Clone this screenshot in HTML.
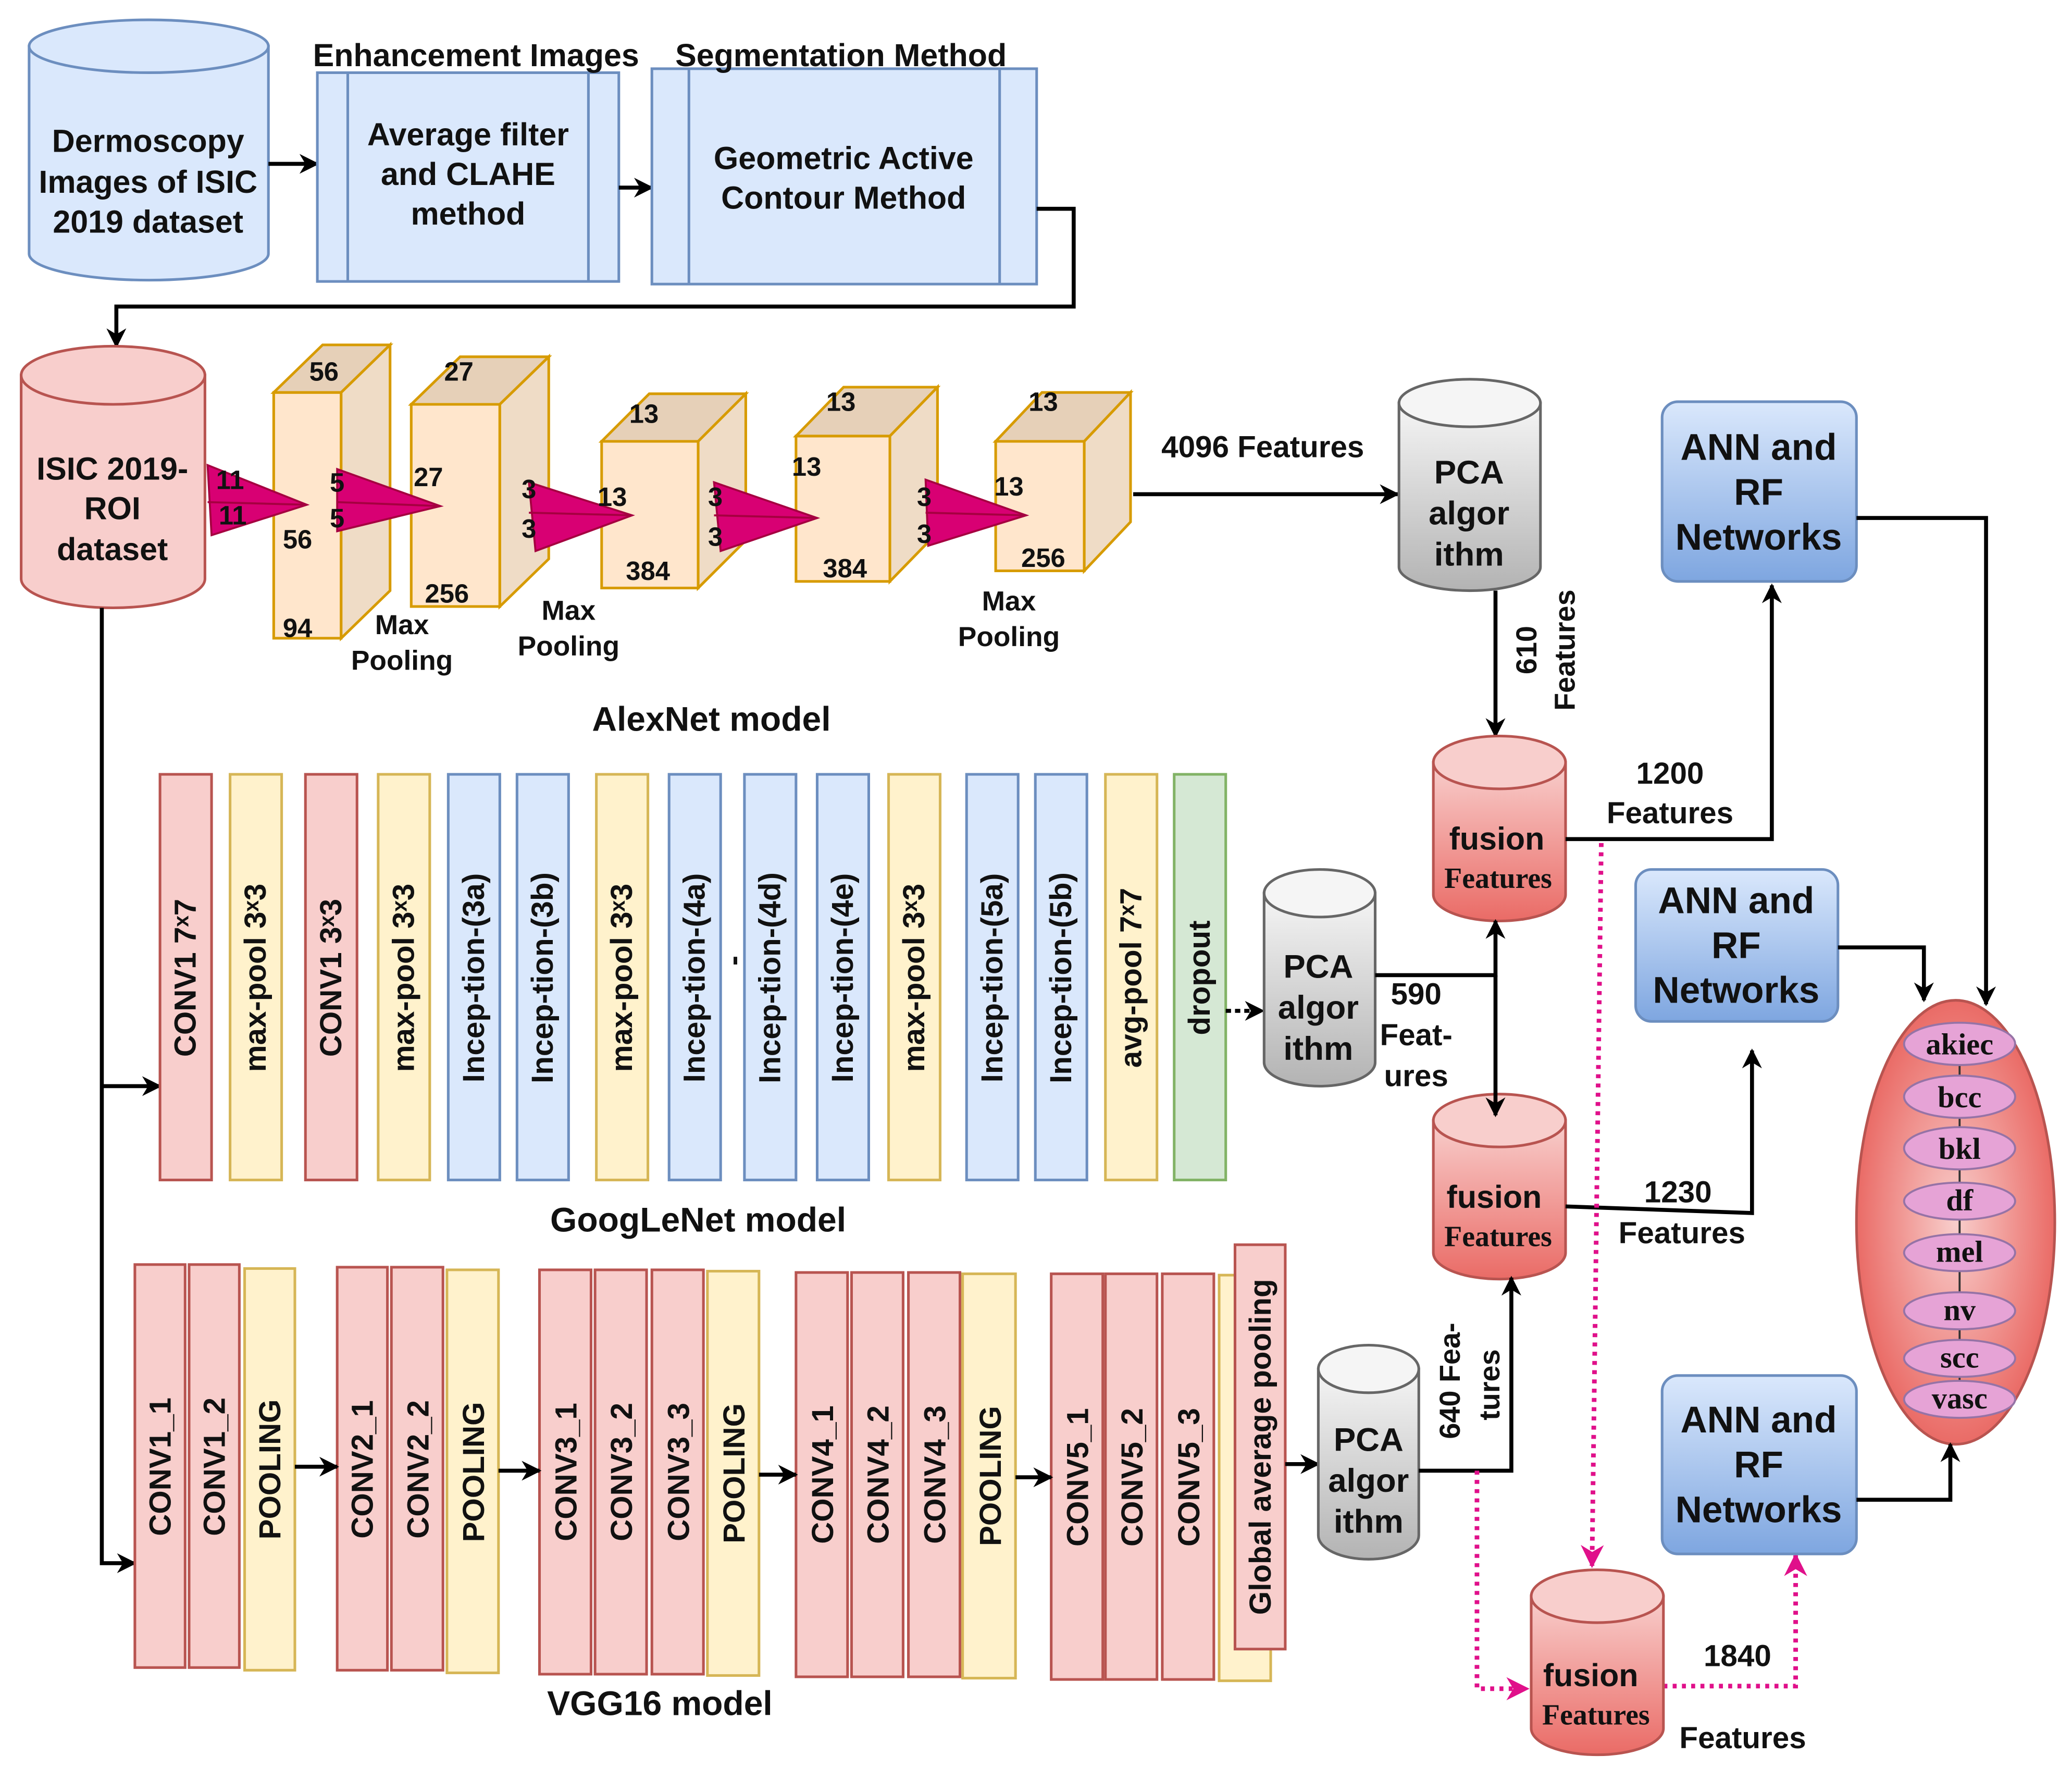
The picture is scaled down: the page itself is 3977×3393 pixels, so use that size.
<!DOCTYPE html>
<html><head><meta charset="utf-8"><style>
html,body{margin:0;padding:0;background:#fff;}
svg{display:block;}
text{font-family:"Liberation Sans",sans-serif;font-weight:bold;fill:#111;}
.s{font-family:"Liberation Serif",serif;}
</style></head><body>
<svg width="3977" height="3393" viewBox="0 0 1567 1338" preserveAspectRatio="none" xmlns="http://www.w3.org/2000/svg">
<defs>
<marker id="a" viewBox="0 0 10 10" refX="9" refY="5" markerWidth="5" markerHeight="5" orient="auto"><path d="M0,0 L10,5 L0,10 L3,5 Z" fill="#000"/></marker>
<marker id="m" viewBox="0 0 10 10" refX="9" refY="5" markerWidth="5" markerHeight="5" orient="auto"><path d="M0,0 L10,5 L0,10 L3,5 Z" fill="#e0108a"/></marker>
<linearGradient id="gg" x1="0" y1="0" x2="0" y2="1"><stop offset="0" stop-color="#f5f5f5"/><stop offset="1" stop-color="#b3b3b3"/></linearGradient>
<linearGradient id="gr" x1="0" y1="0" x2="0" y2="1"><stop offset="0" stop-color="#f8cecc"/><stop offset="1" stop-color="#ea6b66"/></linearGradient>
<linearGradient id="gb" x1="0" y1="0" x2="0" y2="1"><stop offset="0" stop-color="#dae8fc"/><stop offset="1" stop-color="#7ea6e0"/></linearGradient>
<radialGradient id="ge" cx="0.5" cy="0.5" r="0.5"><stop offset="0" stop-color="#f8cecc"/><stop offset="1" stop-color="#ea6b66"/></radialGradient>
</defs>

<!-- Top row -->
<path d="M22,35 L22,192 A90.5,20 0 0 0 203,192 L203,35 Z" fill="#dae8fc" stroke="#6c8ebf" stroke-width="2"/>
<ellipse cx="112.5" cy="35" rx="90.5" ry="20" fill="#dae8fc" stroke="#6c8ebf" stroke-width="2"/>
<text x="112" y="115" font-size="24" text-anchor="middle">Dermoscopy</text>
<text x="112" y="146" font-size="24" text-anchor="middle">Images of ISIC</text>
<text x="112" y="176" font-size="24" text-anchor="middle">2019 dataset</text>
<line x1="203" y1="124" x2="240" y2="124" stroke="#000" stroke-width="3" marker-end="url(#a)"/>

<rect x="240" y="55" width="228" height="158" fill="#dae8fc" stroke="#6c8ebf" stroke-width="2"/>
<line x1="263" y1="55" x2="263" y2="213" stroke="#6c8ebf" stroke-width="2"/>
<line x1="445" y1="55" x2="445" y2="213" stroke="#6c8ebf" stroke-width="2"/>
<text x="354" y="110" font-size="24" text-anchor="middle">Average filter</text>
<text x="354" y="140" font-size="24" text-anchor="middle">and CLAHE</text>
<text x="354" y="170" font-size="24" text-anchor="middle">method</text>
<text x="360" y="50" font-size="24" text-anchor="middle">Enhancement Images</text>
<line x1="468" y1="142" x2="493" y2="142" stroke="#000" stroke-width="3" marker-end="url(#a)"/>

<rect x="493" y="52" width="291" height="163" fill="#dae8fc" stroke="#6c8ebf" stroke-width="2"/>
<line x1="521" y1="52" x2="521" y2="215" stroke="#6c8ebf" stroke-width="2"/>
<line x1="756" y1="52" x2="756" y2="215" stroke="#6c8ebf" stroke-width="2"/>
<text x="638" y="128" font-size="24" text-anchor="middle">Geometric Active</text>
<text x="638" y="158" font-size="24" text-anchor="middle">Contour Method</text>
<text x="636" y="50" font-size="24" text-anchor="middle">Segmentation Method</text>
<polyline points="784,158 812,158 812,232 88,232 88,262" fill="none" stroke="#000" stroke-width="3" marker-end="url(#a)"/>

<!-- ISIC ROI -->
<path d="M16,284 L16,438 A69.5,22 0 0 0 155,438 L155,284 Z" fill="#f8cecc" stroke="#b85450" stroke-width="2"/>
<ellipse cx="85.5" cy="284" rx="69.5" ry="22" fill="#f8cecc" stroke="#b85450" stroke-width="2"/>
<text x="85" y="363" font-size="24" text-anchor="middle">ISIC 2019-</text>
<text x="85" y="393" font-size="24" text-anchor="middle">ROI</text>
<text x="85" y="424" font-size="24" text-anchor="middle">dataset</text>

<polyline points="77,460 77,1183 102,1183" fill="none" stroke="#000" stroke-width="3" marker-end="url(#a)"/>
<line x1="77" y1="822" x2="121" y2="822" stroke="#000" stroke-width="3" marker-end="url(#a)"/>

<!-- AlexNet cubes -->
<g stroke="#d79b00" stroke-width="2">
<rect x="207" y="297" width="51" height="186" fill="#ffe6cc"/>
<polygon points="207,297 244,261 295,261 258,297" fill="#e6d0b8"/>
<polygon points="258,297 295,261 295,447 258,483" fill="#efdcc6"/>
<rect x="311" y="306" width="67" height="153" fill="#ffe6cc"/>
<polygon points="311,306 348,270 415,270 378,306" fill="#e6d0b8"/>
<polygon points="378,306 415,270 415,423 378,459" fill="#efdcc6"/>
<rect x="455" y="334" width="73" height="111" fill="#ffe6cc"/>
<polygon points="455,334 491,298 564,298 528,334" fill="#e6d0b8"/>
<polygon points="528,334 564,298 564,409 528,445" fill="#efdcc6"/>
<rect x="602" y="330" width="71" height="110" fill="#ffe6cc"/>
<polygon points="602,330 638,293 709,293 673,330" fill="#e6d0b8"/>
<polygon points="673,330 709,293 709,403 673,440" fill="#efdcc6"/>
<rect x="753" y="334" width="67" height="98" fill="#ffe6cc"/>
<polygon points="753,334 788,297 855,297 820,334" fill="#e6d0b8"/>
<polygon points="820,334 855,297 855,395 820,432" fill="#efdcc6"/>
</g>
<g fill="#d80073" stroke="#a50040" stroke-width="1.5">
<polygon points="157,352 232,382 160,405"/><line x1="157" y1="380" x2="232" y2="382"/>
<polygon points="255,355 333,383 255,402"/><line x1="255" y1="380" x2="333" y2="383"/>
<polygon points="400,365 478,390 405,417"/><line x1="400" y1="388" x2="478" y2="390"/>
<polygon points="540,365 618,392 545,417"/><line x1="540" y1="390" x2="618" y2="392"/>
<polygon points="700,363 776,390 702,413"/><line x1="700" y1="388" x2="776" y2="390"/>
</g>
<g font-size="20" text-anchor="middle">
<text x="174" y="370">11</text><text x="176" y="397">11</text>
<text x="245" y="288">56</text><text x="255" y="372">5</text><text x="255" y="399">5</text>
<text x="225" y="415">56</text><text x="225" y="482">94</text>
<text x="347" y="288">27</text><text x="324" y="368">27</text><text x="338" y="456">256</text>
<text x="400" y="377">3</text><text x="400" y="407">3</text>
<text x="487" y="320">13</text><text x="463" y="383">13</text><text x="490" y="439">384</text>
<text x="541" y="383">3</text><text x="541" y="413">3</text>
<text x="636" y="311">13</text><text x="610" y="360">13</text><text x="639" y="437">384</text>
<text x="699" y="383">3</text><text x="699" y="411">3</text>
<text x="789" y="311">13</text><text x="763" y="375">13</text><text x="789" y="429">256</text>
</g>
<g font-size="21" text-anchor="middle">
<text x="304" y="480">Max</text><text x="304" y="507">Pooling</text>
<text x="430" y="469">Max</text><text x="430" y="496">Pooling</text>
<text x="763" y="462">Max</text><text x="763" y="489">Pooling</text>
</g>
<text x="538" y="553" font-size="26" text-anchor="middle">AlexNet model</text>

<line x1="857" y1="374" x2="1057" y2="374" stroke="#000" stroke-width="3" marker-end="url(#a)"/>
<text x="955" y="346" font-size="23" text-anchor="middle">4096 Features</text>

<path d="M1058,305 L1058,429 A53.5,18 0 0 0 1165,429 L1165,305 Z" fill="url(#gg)" stroke="#666" stroke-width="2"/>
<ellipse cx="1111.5" cy="305" rx="53.5" ry="18" fill="#f5f5f5" stroke="#666" stroke-width="2"/>
<text x="1111" y="366" font-size="25" text-anchor="middle">PCA</text>
<text x="1111" y="397" font-size="25" text-anchor="middle">algor</text>
<text x="1111" y="428" font-size="25" text-anchor="middle">ithm</text>
<line x1="1131" y1="447" x2="1131" y2="557" stroke="#000" stroke-width="3" marker-end="url(#a)"/>
<text transform="translate(1162,492) rotate(-90)" font-size="22" text-anchor="middle">610</text>
<text transform="translate(1191,492) rotate(-90)" font-size="22" text-anchor="middle">Features</text>

<path d="M1084,577 L1084,677 A50,20 0 0 0 1184,677 L1184,577 Z" fill="url(#gr)" stroke="#b85450" stroke-width="2"/>
<ellipse cx="1134" cy="577" rx="50" ry="20" fill="#f8cecc" stroke="#b85450" stroke-width="2"/>
<text x="1132" y="643" font-size="24" text-anchor="middle">fusion</text>
<text x="1133" y="672" font-size="22" text-anchor="middle" class="s">Features</text>

<rect x="1257" y="304" width="147" height="136" rx="12" fill="url(#gb)" stroke="#6c8ebf" stroke-width="2"/>
<text x="1330" y="348" font-size="28" text-anchor="middle">ANN and</text>
<text x="1330" y="382" font-size="28" text-anchor="middle">RF</text>
<text x="1330" y="416" font-size="28" text-anchor="middle">Networks</text>
<polyline points="1184,635 1340,635 1340,443" fill="none" stroke="#000" stroke-width="3" marker-end="url(#a)"/>
<text x="1263" y="593" font-size="23" text-anchor="middle">1200</text>
<text x="1263" y="623" font-size="23" text-anchor="middle">Features</text>
<polyline points="1404,392 1502,392 1502,760" fill="none" stroke="#000" stroke-width="3" marker-end="url(#a)"/>

<!-- GoogLeNet bars -->
<g stroke-width="2">
<rect x="121" y="586" width="39" height="307" fill="#f8cecc" stroke="#b85450"/>
<rect x="174" y="586" width="39" height="307" fill="#fff2cc" stroke="#d6b656"/>
<rect x="231" y="586" width="39" height="307" fill="#f8cecc" stroke="#b85450"/>
<rect x="286" y="586" width="39" height="307" fill="#fff2cc" stroke="#d6b656"/>
<rect x="339" y="586" width="39" height="307" fill="#dae8fc" stroke="#6c8ebf"/>
<rect x="391" y="586" width="39" height="307" fill="#dae8fc" stroke="#6c8ebf"/>
<rect x="451" y="586" width="39" height="307" fill="#fff2cc" stroke="#d6b656"/>
<rect x="506" y="586" width="39" height="307" fill="#dae8fc" stroke="#6c8ebf"/>
<rect x="563" y="586" width="39" height="307" fill="#dae8fc" stroke="#6c8ebf"/>
<rect x="618" y="586" width="39" height="307" fill="#dae8fc" stroke="#6c8ebf"/>
<rect x="672" y="586" width="39" height="307" fill="#fff2cc" stroke="#d6b656"/>
<rect x="731" y="586" width="39" height="307" fill="#dae8fc" stroke="#6c8ebf"/>
<rect x="783" y="586" width="39" height="307" fill="#dae8fc" stroke="#6c8ebf"/>
<rect x="836" y="586" width="39" height="307" fill="#fff2cc" stroke="#d6b656"/>
<rect x="888" y="586" width="39" height="307" fill="#d5e8d4" stroke="#82b366"/>
</g>
<g font-size="23">
<text transform="translate(148,740) rotate(-90)" text-anchor="middle">CONV1 7ˣ7</text>
<text transform="translate(201,740) rotate(-90)" text-anchor="middle">max-pool 3ˣ3</text>
<text transform="translate(258,740) rotate(-90)" text-anchor="middle">CONV1 3ˣ3</text>
<text transform="translate(313,740) rotate(-90)" text-anchor="middle">max-pool 3ˣ3</text>
<text transform="translate(366,740) rotate(-90)" text-anchor="middle">Incep-tion-(3a)</text>
<text transform="translate(418,740) rotate(-90)" text-anchor="middle">Incep-tion-(3b)</text>
<text transform="translate(478,740) rotate(-90)" text-anchor="middle">max-pool 3ˣ3</text>
<text transform="translate(533,740) rotate(-90)" text-anchor="middle">Incep-tion-(4a)</text>
<text transform="translate(562,727) rotate(-90)" text-anchor="middle">-</text>
<text transform="translate(590,740) rotate(-90)" text-anchor="middle">Incep-tion-(4d)</text>
<text transform="translate(645,740) rotate(-90)" text-anchor="middle">Incep-tion-(4e)</text>
<text transform="translate(699,740) rotate(-90)" text-anchor="middle">max-pool 3ˣ3</text>
<text transform="translate(758,740) rotate(-90)" text-anchor="middle">Incep-tion-(5a)</text>
<text transform="translate(810,740) rotate(-90)" text-anchor="middle">Incep-tion-(5b)</text>
<text transform="translate(863,740) rotate(-90)" text-anchor="middle">avg-pool 7ˣ7</text>
<text transform="translate(915,740) rotate(-90)" text-anchor="middle">dropout</text>
</g>
<text x="528" y="932" font-size="26" text-anchor="middle">GoogLeNet model</text>
<line x1="927" y1="765" x2="955" y2="765" stroke="#000" stroke-width="3" stroke-dasharray="4,3" marker-end="url(#a)"/>

<path d="M956,676 L956,804 A42,18 0 0 0 1040,804 L1040,676 Z" fill="url(#gg)" stroke="#666" stroke-width="2"/>
<ellipse cx="998" cy="676" rx="42" ry="18" fill="#f5f5f5" stroke="#666" stroke-width="2"/>
<text x="997" y="740" font-size="25" text-anchor="middle">PCA</text>
<text x="997" y="771" font-size="25" text-anchor="middle">algor</text>
<text x="997" y="802" font-size="25" text-anchor="middle">ithm</text>
<text x="1071" y="760" font-size="23" text-anchor="middle">590</text>
<text x="1071" y="791" font-size="23" text-anchor="middle">Feat-</text>
<text x="1071" y="822" font-size="23" text-anchor="middle">ures</text>

<path d="M1084,848 L1084,948 A50,20 0 0 0 1184,948 L1184,848 Z" fill="url(#gr)" stroke="#b85450" stroke-width="2"/>
<ellipse cx="1134" cy="848" rx="50" ry="20" fill="#f8cecc" stroke="#b85450" stroke-width="2"/>
<text x="1130" y="914" font-size="24" text-anchor="middle">fusion</text>
<text x="1133" y="943" font-size="22" text-anchor="middle" class="s">Features</text>
<polyline points="1040,738 1131,738 1131,697" fill="none" stroke="#000" stroke-width="3" marker-end="url(#a)"/>
<line x1="1131" y1="738" x2="1131" y2="844" stroke="#000" stroke-width="3" marker-end="url(#a)"/>

<rect x="1237" y="658" width="153" height="115" rx="12" fill="url(#gb)" stroke="#6c8ebf" stroke-width="2"/>
<text x="1313" y="691" font-size="28" text-anchor="middle">ANN and</text>
<text x="1313" y="725" font-size="28" text-anchor="middle">RF</text>
<text x="1313" y="759" font-size="28" text-anchor="middle">Networks</text>
<polyline points="1390,717 1455,717 1455,757" fill="none" stroke="#000" stroke-width="3" marker-end="url(#a)"/>
<polyline points="1184,913 1325,918 1325,795" fill="none" stroke="#000" stroke-width="3" marker-end="url(#a)"/>
<text x="1269" y="910" font-size="23" text-anchor="middle">1230</text>
<text x="1272" y="941" font-size="23" text-anchor="middle">Features</text>

<ellipse cx="1479" cy="925" rx="75" ry="168" fill="url(#ge)" stroke="#b85450" stroke-width="2"/>
<line x1="1482" y1="790" x2="1482" y2="1059" stroke="#333" stroke-width="1.5"/>
<g fill="#e6a3d6" stroke="#9673a6" stroke-width="1.5">
<ellipse cx="1482" cy="790" rx="42" ry="16"/>
<ellipse cx="1482" cy="830" rx="42" ry="16"/>
<ellipse cx="1482" cy="869" rx="42" ry="16"/>
<ellipse cx="1482" cy="909" rx="42" ry="14"/>
<ellipse cx="1482" cy="948" rx="42" ry="14"/>
<ellipse cx="1482" cy="992" rx="42" ry="14"/>
<ellipse cx="1482" cy="1028" rx="42" ry="14"/>
<ellipse cx="1482" cy="1059" rx="42" ry="14"/>
</g>
<g font-size="23" text-anchor="middle">
<text x="1482" y="798" class="s">akiec</text>
<text x="1482" y="838" class="s">bcc</text>
<text x="1482" y="877" class="s">bkl</text>
<text x="1482" y="916" class="s">df</text>
<text x="1482" y="955" class="s">mel</text>
<text x="1482" y="999" class="s">nv</text>
<text x="1482" y="1035" class="s">scc</text>
<text x="1482" y="1066" class="s">vasc</text>
</g>

<!-- VGG16 bars -->
<g stroke-width="2">
<rect x="102" y="957" width="38" height="305" fill="#f8cecc" stroke="#b85450"/>
<rect x="143" y="957" width="38" height="305" fill="#f8cecc" stroke="#b85450"/>
<rect x="185" y="960" width="38" height="304" fill="#fff2cc" stroke="#d6b656"/>
<rect x="255" y="959" width="38" height="305" fill="#f8cecc" stroke="#b85450"/>
<rect x="296" y="959" width="39" height="305" fill="#f8cecc" stroke="#b85450"/>
<rect x="338" y="961" width="39" height="305" fill="#fff2cc" stroke="#d6b656"/>
<rect x="408" y="961" width="39" height="306" fill="#f8cecc" stroke="#b85450"/>
<rect x="450" y="961" width="39" height="306" fill="#f8cecc" stroke="#b85450"/>
<rect x="493" y="961" width="39" height="306" fill="#f8cecc" stroke="#b85450"/>
<rect x="535" y="962" width="39" height="306" fill="#fff2cc" stroke="#d6b656"/>
<rect x="602" y="963" width="39" height="306" fill="#f8cecc" stroke="#b85450"/>
<rect x="644" y="963" width="39" height="306" fill="#f8cecc" stroke="#b85450"/>
<rect x="687" y="963" width="39" height="306" fill="#f8cecc" stroke="#b85450"/>
<rect x="728" y="964" width="40" height="306" fill="#fff2cc" stroke="#d6b656"/>
<rect x="795" y="964" width="39" height="307" fill="#f8cecc" stroke="#b85450"/>
<rect x="836" y="964" width="39" height="307" fill="#f8cecc" stroke="#b85450"/>
<rect x="879" y="964" width="39" height="307" fill="#f8cecc" stroke="#b85450"/>
<rect x="922" y="965" width="39" height="307" fill="#fff2cc" stroke="#d6b656"/>
<rect x="934" y="942" width="38" height="306" fill="#f8cecc" stroke="#b85450"/>
</g>
<g font-size="23" text-anchor="middle">
<text transform="translate(129,1110) rotate(-90)">CONV1_1</text>
<text transform="translate(170,1110) rotate(-90)">CONV1_2</text>
<text transform="translate(212,1112) rotate(-90)">POOLING</text>
<text transform="translate(282,1112) rotate(-90)">CONV2_1</text>
<text transform="translate(324,1112) rotate(-90)">CONV2_2</text>
<text transform="translate(366,1114) rotate(-90)">POOLING</text>
<text transform="translate(436,1114) rotate(-90)">CONV3_1</text>
<text transform="translate(478,1114) rotate(-90)">CONV3_2</text>
<text transform="translate(521,1114) rotate(-90)">CONV3_3</text>
<text transform="translate(563,1115) rotate(-90)">POOLING</text>
<text transform="translate(630,1116) rotate(-90)">CONV4_1</text>
<text transform="translate(672,1116) rotate(-90)">CONV4_2</text>
<text transform="translate(715,1116) rotate(-90)">CONV4_3</text>
<text transform="translate(757,1117) rotate(-90)">POOLING</text>
<text transform="translate(823,1118) rotate(-90)">CONV5_1</text>
<text transform="translate(864,1118) rotate(-90)">CONV5_2</text>
<text transform="translate(907,1118) rotate(-90)">CONV5_3</text>
<text transform="translate(961,1095) rotate(-90)">Global average pooling</text>
</g>
<g stroke="#000" stroke-width="3">
<line x1="223" y1="1110" x2="255" y2="1110" marker-end="url(#a)"/>
<line x1="377" y1="1113" x2="408" y2="1113" marker-end="url(#a)"/>
<line x1="574" y1="1116" x2="602" y2="1116" marker-end="url(#a)"/>
<line x1="768" y1="1118" x2="795" y2="1118" marker-end="url(#a)"/>
<line x1="972" y1="1108" x2="997" y2="1108" marker-end="url(#a)"/>
</g>
<text x="499" y="1298" font-size="26" text-anchor="middle">VGG16 model</text>

<path d="M997,1036 L997,1162 A38,18 0 0 0 1073,1162 L1073,1036 Z" fill="url(#gg)" stroke="#666" stroke-width="2"/>
<ellipse cx="1035" cy="1036" rx="38" ry="18" fill="#f5f5f5" stroke="#666" stroke-width="2"/>
<text x="1035" y="1098" font-size="25" text-anchor="middle">PCA</text>
<text x="1035" y="1129" font-size="25" text-anchor="middle">algor</text>
<text x="1035" y="1160" font-size="25" text-anchor="middle">ithm</text>
<polyline points="1073,1113 1143,1113 1143,967" fill="none" stroke="#000" stroke-width="3" marker-end="url(#a)"/>
<text transform="translate(1104,1045) rotate(-90)" font-size="22" text-anchor="middle">640 Fea-</text>
<text transform="translate(1134,1048) rotate(-90)" font-size="22" text-anchor="middle">tures</text>

<g fill="none" stroke="#e0108a" stroke-width="3.5" stroke-dasharray="3,4">
<polyline points="1117,1113 1117,1278 1155,1278" marker-end="url(#m)"/>
<polyline points="1211,638 1204,1185" marker-end="url(#m)"/>
<polyline points="1258,1276 1358,1276 1358,1177" marker-end="url(#m)"/>
</g>

<path d="M1158,1208 L1158,1308 A50,20 0 0 0 1258,1308 L1258,1208 Z" fill="url(#gr)" stroke="#b85450" stroke-width="2"/>
<ellipse cx="1208" cy="1208" rx="50" ry="20" fill="#f8cecc" stroke="#b85450" stroke-width="2"/>
<text x="1203" y="1276" font-size="24" text-anchor="middle">fusion</text>
<text x="1207" y="1305" font-size="22" text-anchor="middle" class="s">Features</text>
<text x="1314" y="1261" font-size="23" text-anchor="middle">1840</text>
<text x="1318" y="1323" font-size="23" text-anchor="middle">Features</text>

<rect x="1257" y="1041" width="147" height="135" rx="12" fill="url(#gb)" stroke="#6c8ebf" stroke-width="2"/>
<text x="1330" y="1084" font-size="28" text-anchor="middle">ANN and</text>
<text x="1330" y="1118" font-size="28" text-anchor="middle">RF</text>
<text x="1330" y="1152" font-size="28" text-anchor="middle">Networks</text>
<polyline points="1404,1135 1475,1135 1475,1093" fill="none" stroke="#000" stroke-width="3" marker-end="url(#a)"/>
</svg>
</body></html>
